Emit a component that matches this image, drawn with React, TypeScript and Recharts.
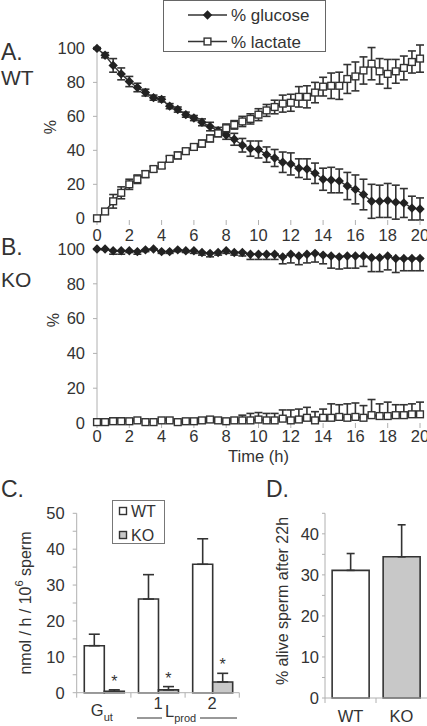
import React from "react";
import { LineChart, Line, XAxis, YAxis, ErrorBar, BarChart, Bar, Cell, LabelList } from "recharts";

// time points (h)
const hours = [
  0, 0.5, 1, 1.5, 2, 2.5, 3, 3.5, 4, 4.5, 5, 5.5, 6, 6.5, 7, 7.5, 8, 8.5, 9, 9.5, 10,
  10.5, 11, 11.5, 12, 12.5, 13, 13.5, 14, 14.5, 15, 15.5, 16, 16.5, 17, 17.5, 18, 18.5, 19, 19.5, 20,
];
const hourTicks = [0, 2, 4, 6, 8, 10, 12, 14, 16, 18, 20];
const pctTicks = [0, 20, 40, 60, 80, 100];

// A. WT
const wtGlucose = [
  100, 96, 90, 85, 80.5, 77, 74, 71, 70, 66, 64, 61, 59, 56.5, 54, 51.5, 49, 46.5, 43, 41, 40.5,
  37.5, 35.5, 33, 32, 29.5, 29, 26.5, 23, 22.5, 22, 19, 17, 14, 10, 10, 10.5, 9.5, 9, 6, 5.5,
];
const wtGlucoseErr = [
  0.5, 1.5, 4, 3.5, 3, 2.5, 2, 1.5, 1.5, 1.5, 1.5, 1.5, 1.5, 2, 2.5, 2, 2.5, 3.5, 4, 4.5, 5,
  4.5, 5, 6, 6.5, 5.5, 6, 6, 6.5, 7.5, 7, 8, 8.5, 9, 10, 9.5, 10, 10, 8.5, 7, 6.5,
];
const wtLactate = [
  0, 4, 10, 15, 20, 23, 26, 29, 31, 35, 37, 39.5, 42, 44, 47, 50, 53, 55, 57, 58.5, 61,
  63.5, 65.5, 67.5, 68, 71.5, 71.5, 74, 77.5, 78, 78, 82, 83.5, 87, 91, 86.5, 85, 86.5, 88.5, 92, 94,
];
const wtLactateErr = [
  0.5, 1.5, 4, 3.5, 3, 2.5, 2, 1.5, 1.5, 1.5, 2, 1.5, 1.5, 2, 2, 2, 2.5, 2.5, 3, 3, 3.5,
  3.5, 4, 5, 5, 6, 6.5, 6, 5.5, 7.5, 8, 8.5, 8.5, 8, 9.5, 7.5, 8.5, 7, 7, 6.5, 8,
];

// B. KO
const koGlucose = [
  100, 100, 99, 99, 99, 98.5, 99.5, 100, 98.5, 98.5, 99.5, 99, 99, 98, 97.5, 98, 99, 98, 98, 97, 97,
  97, 97, 95.5, 97, 96, 97, 97.5, 96.5, 96, 95.5, 96, 96, 96, 95, 95, 96, 94.5, 94.5, 94.5, 94.5,
];
const koGlucoseErr = [
  0.3, 0.5, 2, 2, 1, 1.5, 1, 0.5, 1, 1, 1, 1, 1.5, 1.5, 2, 1.5, 1.5, 1.5, 2, 3, 3,
  3, 3, 4, 5, 5, 5, 5, 5, 7, 7, 7, 7, 6, 8, 8, 8, 8, 7, 7, 7,
];
const koLactate = [
  0.5, 0.5, 1, 1, 1, 1.5, 0.5, 0.5, 1.5, 1.5, 0.5, 1, 1, 1.5, 2, 1.5, 1, 1.5, 1.5, 1.5, 2,
  1.5, 1.5, 2.5, 1.5, 2, 3, 1.5, 3, 3, 3.5, 3, 3.5, 3, 4.5, 4, 4, 4.5, 4.5, 5, 5,
];
const koLactateErr = [
  0.5, 0.5, 2, 2, 0.5, 1, 0.5, 0.5, 1, 1, 0.5, 0.5, 0.5, 1, 1, 1, 1, 1, 3, 4, 4,
  4, 4, 5, 6, 6, 6, 5, 5, 8, 7, 8, 8, 7, 9, 7, 8, 6, 6, 6, 7,
];

// C. rates
const rateGroups = ["Gut", "1", "2"];
const wtRate = [13.1, 26.1, 35.8];
const wtRateErr = [3.2, 6.8, 7.1];
const koRate = [0.4, 0.8, 3.0];
const koRateErr = [0.4, 0.9, 2.4];
const rateTicks = [0, 5, 10, 15, 20, 25, 30, 35, 40, 45, 50];

// D. viability
const genotypes = ["WT", "KO"];
const alive = [31.1, 34.4];
const aliveErr = [4.1, 7.8];
const aliveTicks = [0, 5, 10, 15, 20, 25, 30, 35, 40, 45];

const INK = "#333333";
const AXIS = "#b0b0b0";
const GREY = "#c8c8c8";
const FONT = "'Liberation Sans', Arial, sans-serif";

const wtRows = hours.map((t, i) => ({
  t,
  glc: wtGlucose[i],
  glcErr: wtGlucoseErr[i],
  lac: wtLactate[i],
  lacErr: wtLactateErr[i],
}));
const koRows = hours.map((t, i) => ({
  t,
  glc: koGlucose[i],
  glcErr: [koGlucoseErr[i], 0],
  lac: koLactate[i],
  lacErr: [0, koLactateErr[i]],
}));
const rateRows = rateGroups.map((g, i) => ({
  g,
  wt: wtRate[i],
  wtErr: [0, wtRateErr[i]],
  ko: koRate[i],
  koErr: [0, koRateErr[i]],
}));
const aliveRows = genotypes.map((g, i) => ({ g, v: alive[i], err: [0, aliveErr[i]] }));

const Diamond = (p: any) => {
  const { cx, cy } = p;
  if (cx == null || cy == null) return <g key={p.key} />;
  const r = 4.7;
  return <path key={p.key} d={`M${cx},${cy - r}L${cx + r},${cy}L${cx},${cy + r}L${cx - r},${cy}Z`} fill="#222" />;
};

const Square = (p: any) => {
  const { cx, cy } = p;
  if (cx == null || cy == null) return <g key={p.key} />;
  return <rect key={p.key} x={cx - 3.4} y={cy - 3.4} width={6.8} height={6.8} fill="#fff" stroke={INK} strokeWidth={1.4} />;
};

const tickText = { fill: INK, fontSize: 16.5 };

const GroupTick = (p: any) => {
  const { x, y, payload, index, visibleTicksCount } = p;
  const half = payload?.offset ?? 0;
  const last = index === visibleTicksCount - 1;
  let label;
  if (payload.value === "Gut") {
    label = (
      <text x={x - 2} y={y + 23.5} textAnchor="middle" fill={INK} fontSize={16.5}>
        G<tspan fontSize={11} dy={4.5}>ut</tspan>
      </text>
    );
  } else {
    label = (
      <text x={x} y={y + 16.6} textAnchor="middle" fill={INK} fontSize={16.5}>
        {payload.value}
      </text>
    );
  }
  return (
    <g>
      <line x1={x - half} x2={x - half} y1={y} y2={y + 5} stroke={AXIS} />
      {last && <line x1={x + half} x2={x + half} y1={y} y2={y + 5} stroke={AXIS} />}
      {label}
    </g>
  );
};

const GenoTick = (p: any) => {
  const { x, y, payload } = p;
  const half = payload?.offset ?? 0;
  return (
    <g>
      <line x1={x - half} x2={x - half} y1={y} y2={y + 5} stroke={AXIS} />
      <text x={x} y={y + 24} textAnchor="middle" fill={INK} fontSize={16.5}>
        {payload.value}
      </text>
    </g>
  );
};

const Star = (p: any) => {
  const vb = p.viewBox ?? p;
  const i = p.index ?? 0;
  const { x, y, width, height } = vb;
  if (x == null) return null;
  const perUnit = koRate[i] ? Math.abs(height) / koRate[i] : 0;
  const top = y - koRateErr[i] * perUnit;
  return (
    <text x={x + width / 2} y={top - 3} textAnchor="middle" fill={INK} fontSize={16}>
      *
    </text>
  );
};

const tenLabel = (v: number) => (v % 10 === 0 ? String(v) : "");

function TimeCourse({ rows, withTitle }: { rows: any[]; withTitle: boolean }) {
  return (
    <LineChart
      width={427}
      height={withTitle ? 240 : 245}
      data={rows}
      margin={withTitle ? { top: 24, right: 7, bottom: 3, left: 37 } : { top: 45, right: 7, bottom: 5, left: 37 }}
    >
      <XAxis
        dataKey="t"
        type="number"
        domain={[0, 20]}
        ticks={hourTicks}
        interval={0}
        axisLine={false}
        tickLine={{ stroke: AXIS }}
        tickSize={5}
        tickMargin={withTitle ? 2 : 4}
        tick={tickText}
        height={withTitle ? 39 : 20}
        label={withTitle ? { value: "Time (h)", position: "insideBottom", offset: 0, fill: INK, fontSize: 16.5 } : undefined}
      />
      <YAxis
        domain={[0, 100]}
        ticks={pctTicks}
        width={60}
        axisLine={{ stroke: AXIS }}
        tickLine={{ stroke: AXIS }}
        tickSize={4}
        tickMargin={8}
        tick={tickText}
      />
      <Line dataKey="glc" stroke={INK} strokeWidth={1.4} dot={Diamond} isAnimationActive={false}>
        <ErrorBar dataKey="glcErr" width={4} stroke={INK} strokeWidth={1.6} direction="y" />
      </Line>
      <Line dataKey="lac" stroke={INK} strokeWidth={1.4} dot={Square} isAnimationActive={false}>
        <ErrorBar dataKey="lacErr" width={4} stroke={INK} strokeWidth={1.6} direction="y" />
      </Line>
    </LineChart>
  );
}

export default function App() {
  return (
    <div
      style={{
        position: "absolute",
        left: 0,
        top: 0,
        width: 427,
        height: 726,
        overflow: "hidden",
        background: "#fff",
        fontFamily: FONT,
      }}
    >
      <div style={{ position: "absolute", left: 0, top: 0 }}>
        <TimeCourse rows={wtRows} withTitle={false} />
      </div>
      <div style={{ position: "absolute", left: 0, top: 225 }}>
        <TimeCourse rows={koRows} withTitle={true} />
      </div>

      <div style={{ position: "absolute", left: 0, top: 495 }}>
        <BarChart
          width={250}
          height={231}
          data={rateRows}
          margin={{ top: 18.3, right: 10.7, bottom: 0, left: 36.7 }}
          barGap={0}
          barCategoryGap="14%"
        >
          <XAxis
            dataKey="g"
            axisLine={{ stroke: AXIS }}
            tickLine={false}
            tickSize={0}
            tickMargin={0}
            height={33.3}
            interval={0}
            tick={<GroupTick />}
          />
          <YAxis
            domain={[0, 50]}
            ticks={rateTicks}
            interval={0}
            tickFormatter={tenLabel}
            width={40}
            axisLine={{ stroke: AXIS }}
            tickLine={{ stroke: AXIS }}
            tickSize={4}
            tickMargin={8}
            tick={tickText}
          />
          <Bar dataKey="wt" fill="#fff" stroke={INK} strokeWidth={1.6} isAnimationActive={false}>
            <ErrorBar dataKey="wtErr" width={5.5} stroke={INK} strokeWidth={1.6} direction="y" />
          </Bar>
          <Bar dataKey="ko" fill={GREY} stroke={INK} strokeWidth={1.6} isAnimationActive={false}>
            <ErrorBar dataKey="koErr" width={5.5} stroke={INK} strokeWidth={1.6} direction="y" />
            <LabelList dataKey="ko" content={<Star />} />
          </Bar>
        </BarChart>
      </div>

      <div style={{ position: "absolute", left: 250, top: 495 }}>
        <BarChart
          width={177}
          height={231}
          data={aliveRows}
          margin={{ top: 18.3, right: 0, bottom: 0, left: 35 }}
          barCategoryGap="14%"
        >
          <XAxis
            dataKey="g"
            axisLine={{ stroke: AXIS }}
            tickLine={false}
            tickSize={0}
            tickMargin={0}
            height={28}
            interval={0}
            tick={<GenoTick />}
          />
          <YAxis
            domain={[0, 45]}
            ticks={aliveTicks}
            interval={0}
            tickFormatter={tenLabel}
            width={40}
            axisLine={{ stroke: AXIS }}
            tickLine={{ stroke: AXIS }}
            tickSize={3}
            tickMargin={3}
            tick={tickText}
          />
          <Bar dataKey="v" stroke={INK} strokeWidth={1.6} isAnimationActive={false}>
            {aliveRows.map((r) => (
              <Cell key={r.g} fill={r.g === "WT" ? "#fff" : GREY} />
            ))}
            <ErrorBar dataKey="err" width={4} stroke={INK} strokeWidth={1.6} direction="y" />
          </Bar>
        </BarChart>
      </div>

      <svg
        width={427}
        height={726}
        style={{ position: "absolute", left: 0, top: 0, pointerEvents: "none" }}
        fontFamily={FONT}
        fill={INK}
      >
        {/* panel letters */}
        <text x={1} y={60} fontSize={23}>A.</text>
        <text x={1} y={85} fontSize={21}>WT</text>
        <text x={1} y={255} fontSize={23}>B.</text>
        <text x={1} y={287} fontSize={21}>KO</text>
        <text x={1} y={497} fontSize={23}>C.</text>
        <text x={266} y={497} fontSize={23}>D.</text>

        {/* y labels */}
        <text x={50} y={127} fontSize={16} textAnchor="middle" dominantBaseline="central" transform="rotate(-90 50 127)">%</text>
        <text x={53} y={320} fontSize={16} textAnchor="middle" dominantBaseline="central" transform="rotate(-90 53 320)">%</text>
        <text x={25} y={603} fontSize={16} textAnchor="middle" dominantBaseline="central" transform="rotate(-90 25 603)">
          nmol / h / 10<tspan fontSize={11} dy={-6}>6</tspan>
          <tspan dy={6}> sperm</tspan>
        </text>
        <text x={282} y={601} fontSize={16} textAnchor="middle" dominantBaseline="central" transform="rotate(-90 282 601)">
          % alive sperm after 22h
        </text>

        {/* L prod bracket */}
        <line x1={137} x2={162} y1={718} y2={718} stroke={INK} strokeWidth={1} />
        <line x1={200} x2={237} y1={718} y2={718} stroke={INK} strokeWidth={1} />
        <text x={165} y={717} fontSize={16.5}>
          L<tspan fontSize={11} dy={4.5}>prod</tspan>
        </text>

        {/* legend A */}
        <rect x={163.5} y={0.5} width={162} height={51} fill="#fff" stroke="#666" />
        <line x1={188} x2={227} y1={15} y2={15} stroke={INK} strokeWidth={1.4} />
        <path d="M207.5,10.3L212.2,15L207.5,19.7L202.8,15Z" fill="#222" />
        <text x={231} y={21} fontSize={17}>% glucose</text>
        <line x1={188} x2={227} y1={41.5} y2={41.5} stroke={INK} strokeWidth={1.4} />
        <rect x={204.1} y={38.1} width={6.8} height={6.8} fill="#fff" stroke={INK} strokeWidth={1.4} />
        <text x={231} y={47.5} fontSize={17}>% lactate</text>

        {/* legend C */}
        <rect x={112.5} y={500.5} width={52} height={43} fill="#fff" stroke="#777" />
        <rect x={119.5} y={507.5} width={7} height={7} fill="#fff" stroke={INK} strokeWidth={1.4} />
        <text x={131} y={516.5} fontSize={16}>WT</text>
        <rect x={119.5} y={531.5} width={7} height={7} fill={GREY} stroke={INK} strokeWidth={1.4} />
        <text x={131} y={540.5} fontSize={16}>KO</text>
      </svg>
    </div>
  );
}
